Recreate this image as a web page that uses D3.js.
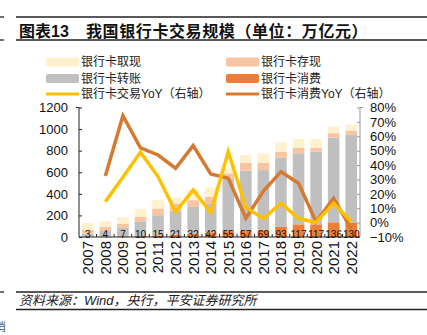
<!DOCTYPE html>
<html><head><meta charset="utf-8">
<script src="https://cdn.jsdelivr.net/npm/d3@7"></script>
<style>
body{margin:0;background:#fff;}
text{font-family:"Liberation Sans","Noto Sans CJK SC",sans-serif;}
</style></head>
<body><svg id="c" width="427" height="335"></svg>
<script>
const years = ["2007","2008","2009","2010","2011","2012","2013","2014","2015","2016","2017","2018","2019","2020","2021","2022"];
const consumption = [3,4,7,10,15,21,32,42,55,57,69,93,117,117,136,130];
const transfer = [29,52,77,136,187,225,247,269,488,557,551,642,659,674,785,816];
const deposit = [37,37,40,40,62,60,62,61,47,74,68,56,52,37,41,40];
const withdrawal = [61,53,59,74,77,55,95,88,40,72,88,87,81,81,61,53];
const tradeYoY = [null,14.6,31.5,48.9,32,7.3,22.7,7,49.2,10.7,2.6,13.5,2.8,0.2,13.5,0.8];
const consumeYoY = [null,32.4,74.3,52,47,37.8,53.5,33.8,30.8,3,22,35.4,27.4,0.5,17,-4.5];
const leftTicks = [0,200,400,600,800,1000,1200];
const rightTicks = [-0.1,0,0.1,0.2,0.3,0.4,0.5,0.6,0.7,0.8];
const seriesNames = ["银行卡消费","银行卡转账","银行卡存现","银行卡取现"];
const colors = {"银行卡消费":"#EE7E36","银行卡转账":"#C0C0C0","银行卡存现":"#F8C4A2","银行卡取现":"#FFF1CD"};
const yellow = "#FFC000", orange = "#D67A31";

const svg = d3.select("#c");
const L = 79, R = 360, T = 107.5, B = 237;

// header
svg.append("line").attr("x1",16).attr("x2",427).attr("y1",17).attr("y2",17).attr("stroke","#222").attr("stroke-width",1.3);
svg.append("line").attr("x1",16).attr("x2",427).attr("y1",40).attr("y2",40).attr("stroke","#222").attr("stroke-width",1.3);
svg.append("line").attr("x1",0).attr("x2",4).attr("y1",17).attr("y2",17).attr("stroke","#222").attr("stroke-width",1.3);
svg.append("line").attr("x1",0).attr("x2",4).attr("y1",40).attr("y2",40).attr("stroke","#222").attr("stroke-width",1.3);
svg.append("text").attr("x",19).attr("y",37).attr("font-size",16).attr("font-weight","bold").attr("fill","#111").text("图表13");
svg.append("text").attr("x",86).attr("y",37).attr("font-size",16).attr("font-weight","bold").attr("fill","#111")
  .attr("letter-spacing",0.6).text("我国银行卡交易规模（单位：万亿元）");

// legend
const legendItems = [
  {name:"银行卡取现", type:"rect", x:46, y:62},
  {name:"银行卡存现", type:"rect", x:226, y:62},
  {name:"银行卡转账", type:"rect", x:46, y:78.5},
  {name:"银行卡消费", type:"rect", x:226, y:78.5},
  {name:"银行卡交易YoY（右轴）", type:"line", color:yellow, x:46, y:94},
  {name:"银行卡消费YoY（右轴）", type:"line", color:orange, x:226, y:94}
];
legendItems.forEach(d=>{
  if(d.type==="rect"){
    svg.append("rect").attr("x",d.x).attr("y",d.y-4.5).attr("width",33).attr("height",9).attr("rx",2).attr("fill",colors[d.name]);
  } else {
    svg.append("line").attr("x1",d.x).attr("x2",d.x+33).attr("y1",d.y).attr("y2",d.y).attr("stroke",d.color).attr("stroke-width",3);
  }
  svg.append("text").attr("x",d.x+35).attr("y",d.y+4.3).attr("font-size",12).attr("fill","#222").text(d.name);
});

// scales
const x = d3.scaleBand().domain(years).range([L,R]).paddingInner(0.34).paddingOuter(0.17);
const yL = d3.scaleLinear().domain([0,1200]).range([B,T]);
const yR = d3.scaleLinear().domain([-0.1,0.8]).range([B,T]);

// stacked bars
const table = years.map((yr,i)=>({year:yr,"银行卡消费":consumption[i],"银行卡转账":transfer[i],"银行卡存现":deposit[i],"银行卡取现":withdrawal[i]}));
const stack = d3.stack().keys(seriesNames)(table);
svg.append("g").selectAll("g").data(stack).join("g").attr("fill",d=>colors[d.key])
  .selectAll("rect").data(d=>d).join("rect")
  .attr("x",d=>x(d.data.year)).attr("width",x.bandwidth())
  .attr("y",d=>yL(d[1])).attr("height",d=>yL(d[0])-yL(d[1]));

// axes
const gl = svg.append("g").attr("transform",`translate(${L},0)`)
  .call(d3.axisLeft(yL).tickValues(leftTicks).tickSize(-3).tickPadding(11).tickFormat(d3.format("d")));
gl.select(".domain").attr("stroke","#222").attr("d",`M-3,${T}H0V${B}`);
gl.selectAll(".tick line").attr("stroke","#222");
gl.selectAll(".tick text").attr("font-size",13).attr("fill","#111").attr("font-family","Liberation Sans, sans-serif");

const gr = svg.append("g").attr("transform",`translate(${R},0)`)
  .call(d3.axisRight(yR).tickValues(rightTicks).tickSize(-3).tickPadding(10).tickFormat(d3.format(".0%")));
gr.select(".domain").attr("stroke","#999").attr("d",`M3,${T}H0V${B}`);
gr.selectAll(".tick line").attr("stroke","#999");
gr.selectAll(".tick text").attr("font-size",13).attr("fill","#111").attr("font-family","Liberation Sans, sans-serif");

// x axis
const gx = svg.append("g").attr("transform",`translate(0,${B})`)
  .call(d3.axisBottom(x).tickSize(0).tickPadding(0));
gx.select(".domain").attr("stroke","#222").attr("d",`M${L},0H${R}`);
gx.selectAll(".tick text").attr("font-size",15).attr("fill","#111")
  .attr("font-family","Liberation Sans, sans-serif")
  .attr("text-anchor","end").attr("transform","rotate(-90)")
  .attr("x",-4).attr("y",0).attr("dy","0.36em");
// small separators between bands
const step = x.step();
svg.append("g").selectAll("line").data(years.slice(1)).join("line")
  .attr("x1",d=>x(d)-(step-x.bandwidth())/2).attr("x2",d=>x(d)-(step-x.bandwidth())/2)
  .attr("y1",B).attr("y2",B-3).attr("stroke","#222").attr("stroke-width",1);

// lines
const lineGen = d3.line().defined(d=>d.v!==null).x(d=>x(d.year)+x.bandwidth()/2).y(d=>yR(d.v/100));
svg.append("path").datum(years.map((yr,i)=>({year:yr,v:consumeYoY[i]})))
  .attr("d",lineGen).attr("fill","none").attr("stroke",orange).attr("stroke-width",3.5).attr("stroke-linejoin","miter");
svg.append("path").datum(years.map((yr,i)=>({year:yr,v:tradeYoY[i]})))
  .attr("d",lineGen).attr("fill","none").attr("stroke",yellow).attr("stroke-width",3.5).attr("stroke-linejoin","miter");

// consumption labels
svg.append("g").selectAll("text").data(years).join("text")
  .attr("x",d=>x(d)+x.bandwidth()/2).attr("y",B+0.5)
  .attr("text-anchor","middle").attr("font-size",10).attr("fill","#111")
  .style("font-family","'Liberation Sans Narrow','Arial Narrow','Liberation Sans',sans-serif")
  .text((d,i)=>consumption[i]);

// footer
svg.append("line").attr("x1",16).attr("x2",427).attr("y1",292).attr("y2",292).attr("stroke","#222").attr("stroke-width",1.3);
svg.append("line").attr("x1",16).attr("x2",427).attr("y1",309.5).attr("y2",309.5).attr("stroke","#222").attr("stroke-width",1.3);
svg.append("line").attr("x1",0).attr("x2",4).attr("y1",292).attr("y2",292).attr("stroke","#222").attr("stroke-width",1.3);
svg.append("text").attr("x",19).attr("y",305).attr("font-size",13).attr("font-style","italic").attr("fill","#222").text("资料来源：Wind，央行，平安证券研究所");
svg.append("text").attr("x",-5).attr("y",331).attr("font-size",11).attr("fill","#555").text("消");
</script></body></html>
